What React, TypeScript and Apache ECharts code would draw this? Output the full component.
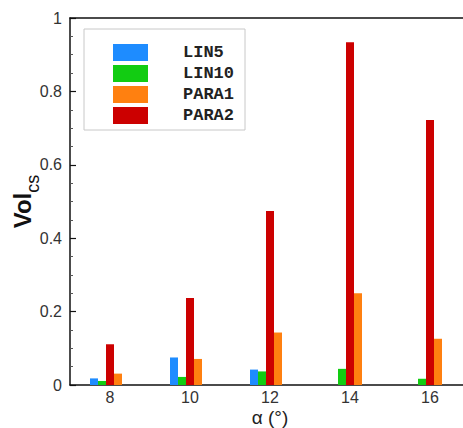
import React, { useEffect, useRef } from "react";
import * as echarts from "echarts";

const alphas = [8, 10, 12, 14, 16];
const lin5 = [0.018, 0.075, 0.042, 0, 0];
const lin10 = [0.011, 0.022, 0.037, 0.044, 0.017];
const para1 = [0.031, 0.071, 0.143, 0.25, 0.126];
const para2 = [0.111, 0.237, 0.474, 0.934, 0.722];
const xTicks = [8, 10, 12, 14, 16];
const legendNames = ["LIN5", "LIN10", "PARA1", "PARA2"];

const colors: Record<string, string> = {
  LIN5: "#1e8cff",
  LIN10: "#12cc12",
  PARA1: "#ff8010",
  PARA2: "#cc0000",
};

export default function App() {
  const ref = useRef<HTMLDivElement>(null);
  useEffect(() => {
    if (!ref.current) return;
    const chart = echarts.init(ref.current, undefined, { renderer: "svg" });
    const mk = (name: string, vals: number[]) => ({
      name,
      type: "bar",
      barWidth: 8,
      barGap: "0%",
      xAxisIndex: 0,
      itemStyle: { color: colors[name] || "transparent" },
      data: alphas.map((a, i) => [a, vals[i]]),
    });
    chart.setOption({
      animation: false,
      backgroundColor: "#fff",
      grid: {
        left: 70,
        top: 18,
        width: 400,
        bottom: 43,
        containLabel: false,
        outerBoundsMode: "none",
        show: false,
      },
      legend: {
        data: legendNames,
        orient: "vertical",
        left: 84,
        top: 29,
        padding: [15, 11, 6, 29],
        itemWidth: 35,
        itemHeight: 17,
        itemGap: 4,
        backgroundColor: "#fff",
        borderColor: "#c8c8c8",
        borderWidth: 1,
        icon: "rect",
        textStyle: {
          fontFamily: "Liberation Mono",
          fontWeight: "bold",
          fontSize: 17,
          lineHeight: 17,
          color: "#222",
          padding: [0, 0, 0, 30],
        },
      },
      xAxis: [
        {
          type: "value",
          min: 7,
          max: 17,
          name: "α (°)",
          nameLocation: "middle",
          nameGap: 23,
          nameMoveOverlap: false,
          nameTextStyle: { fontFamily: "Liberation Sans", fontSize: 19, color: "#222", lineHeight: 19 },
          axisLine: { show: true, lineStyle: { color: "#111", width: 1.5 } },
          axisTick: { show: false, customValues: xTicks },
          axisLabel: {
            customValues: xTicks,
            fontFamily: "Liberation Sans",
            fontSize: 16,
            color: "#333",
            margin: 4,
            lineHeight: 16,
          },
          splitLine: { show: false },
        },
        {
          type: "value",
          position: "top",
          min: 7,
          max: 17,
          axisLine: { show: true, onZero: false, lineStyle: { color: "#111", width: 1.5 } },
          axisTick: { show: false },
          axisLabel: { show: false },
          splitLine: { show: false },
        },
      ],
      yAxis: {
        type: "value",
        min: 0,
        max: 1,
        interval: 0.2,
        name: "{a|Vol}{b|cs}",
        nameLocation: "middle",
        nameGap: 28,
        nameMoveOverlap: false,
        nameTextStyle: {
          rich: {
            a: { fontFamily: "Liberation Sans", fontWeight: "bold", fontSize: 24, color: "#111" },
            b: { fontFamily: "Liberation Sans", fontSize: 18, color: "#111", padding: [22, 0, 0, 0] },
          },
        },
        axisLine: { show: true, lineStyle: { color: "#111", width: 1.5 } },
        axisTick: { show: true, inside: true, length: 6, lineStyle: { color: "#111", width: 1.2 } },
        minorTick: { show: true, splitNumber: 4, length: 3, lineStyle: { color: "#555", width: 1 } },
        axisLabel: {
          fontFamily: "Liberation Sans",
          fontSize: 16,
          color: "#333",
          margin: 8,
          formatter: (v: number) => String(Math.round(v * 10) / 10),
        },
        splitLine: { show: false },
      },
      series: [
        mk("LIN5", lin5),
        mk("LIN10", lin10),
        mk("PARA2", para2),
        mk("PARA1", para1),
        mk("pad", alphas.map(() => 0)),
      ],
    });
    return () => chart.dispose();
  }, []);
  return (
    <div
      ref={ref}
      style={{ position: "fixed", left: 0, top: 0, width: 463, height: 428, overflow: "hidden" }}
    />
  );
}
